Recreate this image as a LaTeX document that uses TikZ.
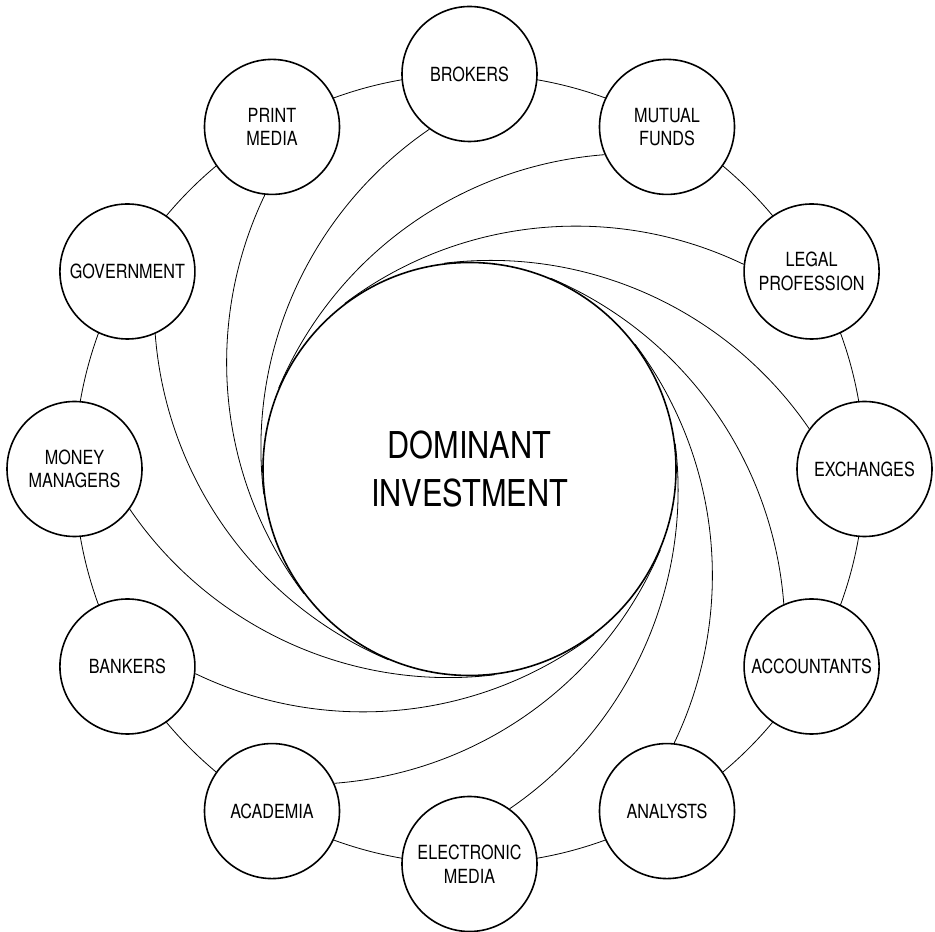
\documentclass[tikz,border=0pt]{standalone}
\usepackage{fontspec}
\setmainfont{TeX Gyre Heros}[FakeStretch=0.83]
\usetikzlibrary{backgrounds}
\begin{document}
\begin{tikzpicture}[x=1pt,y=1pt,
  ringline/.style={line width=0.8pt},
  member/.style={circle, draw, line width=1.6pt, fill=white, minimum size=135pt,
    inner sep=0pt, align=center, font=\fontsize{19.5}{23.5}\selectfont},
  core/.style={circle, draw, line width=1.6pt, fill=white, minimum size=413pt,
    inner sep=0pt, align=center, font=\fontsize{37}{47.7}\selectfont},
  spiral/.style={line width=0.8pt, looseness=0.92}]
\useasboundingbox (0,0) rectangle (935,932);
\coordinate (O) at (469.5,463);
\node[core] (c) at (O) {DOMINANT\\INVESTMENT};
\foreach \name/\ang/\txt in {
  exch/0/{EXCHANGES},
  legal/30/{LEGAL\\PROFESSION},
  mutual/60/{MUTUAL\\FUNDS},
  brokers/90/{BROKERS},
  print/120/{PRINT\\MEDIA},
  gov/150/{GOVERNMENT},
  money/180/{MONEY\\MANAGERS},
  bankers/210/{BANKERS},
  academia/240/{ACADEMIA},
  electronic/270/{ELECTRONIC\\MEDIA},
  analysts/300/{ANALYSTS},
  accountants/330/{ACCOUNTANTS}}
  {\path (O) ++(\ang:395) node[member] (\name) {\txt};}
\begin{scope}[on background layer]
  \draw[ringline] (c.center) circle[radius=395];
  \foreach \name/\ang in {exch/0, legal/30, mutual/60, brokers/90, print/120,
      gov/150, money/180, bankers/210, academia/240, electronic/270,
      analysts/300, accountants/330}
  {
    \pgfmathtruncatemacro\sa{mod(\ang+144,360)}
    \pgfmathtruncatemacro\ea{mod(\ang+97,360)}
    \pgfmathsetmacro\oa{\ang+124.35}
    \pgfmathsetmacro\ia{\ang+7}
    \draw[spiral] (\name.\sa) to[out=\oa, in=\ia] (c.\ea);
  }
\end{scope}
\end{tikzpicture}
\end{document}
